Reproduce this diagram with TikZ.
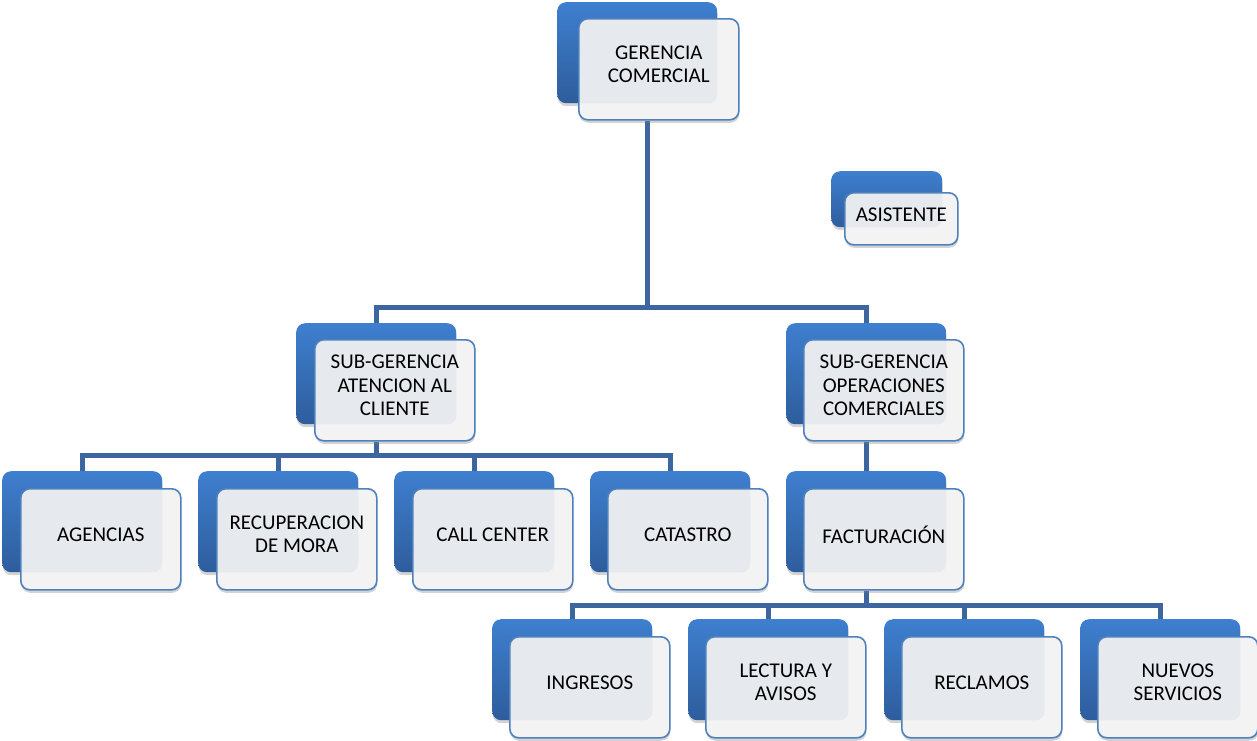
\documentclass[tikz,border=0pt]{standalone}
\usepackage{fontspec}
\setmainfont{Carlito}
\usetikzlibrary{shadows,calc}
\pgfdeclarelayer{bg}
\pgfsetlayers{bg,main}
\definecolor{linec}{HTML}{3D66A0}
\definecolor{bordc}{HTML}{4F81BD}
\definecolor{backtop}{HTML}{3E7FCF}
\definecolor{backbot}{HTML}{2E5D9C}
\definecolor{frontc}{HTML}{F3F3F3}
\definecolor{tintc}{HTML}{E6E9EE}
\tikzset{
  backbox/.style={rectangle, rounded corners=9pt, minimum width=160pt, minimum height=101pt,
    inner sep=0pt, anchor=north west, top color=backtop, bottom color=backbot, draw=none,
    drop shadow={shadow xshift=0.5pt, shadow yshift=-3pt, opacity=0.35}},
  frontbox/.style={rectangle, rounded corners=9pt, minimum width=160pt, minimum height=101pt,
    inner sep=0pt, anchor=north west, fill=frontc, draw=bordc, line width=1.6pt,
    drop shadow={shadow xshift=0.5pt, shadow yshift=-3pt, opacity=0.35},
    path picture={\fill[tintc, rounded corners=9pt] (#1.south west) rectangle (#1.north east);}},
  lbl/.style={align=center, inner sep=0pt, text=black, font=\fontsize{21}{23.5}\selectfont},
  conn/.style={draw=linec, line width=5pt}
}
\begin{document}
\begin{tikzpicture}[x=1pt,y=-1pt]
\useasboundingbox (0,0) rectangle (1257,740);
% level 1
\node[backbox] (gb) at (557,2) {};
\node[frontbox=gb] (gf) at (578,18) {};
\node[lbl] (gt) at ($(gf.center)+(0,-5)$) {GERENCIA\\COMERCIAL};
% asistente
\node[backbox, minimum width=111pt, minimum height=56pt] (asb) at (831,171) {};
\node[frontbox=asb, minimum width=113pt, minimum height=52pt] (asf) at (844,192) {};
\node[lbl] (ast) at ($(asf.center)+(0,-4)$) {ASISTENTE};
% level 2
\node[backbox] (sab) at (296,323) {};
\node[frontbox=sab] (saf) at (314,339) {};
\node[lbl] (sat) at ($(saf.center)+(0,-5)$) {SUB-GERENCIA\\ATENCION AL\\CLIENTE};
\node[backbox] (sob) at (786,323) {};
\node[frontbox=sob] (sof) at (803,339) {};
\node[lbl] (sot) at ($(sof.center)+(0,-5)$) {SUB-GERENCIA\\OPERACIONES\\COMERCIALES};
% level 3
\node[backbox] (agb) at (2,471) {};
\node[frontbox=agb] (agf) at (20,488) {};
\node[lbl] (agt) at ($(agf.center)+(0,-5)$) {AGENCIAS};
\node[backbox] (reb) at (198,471) {};
\node[frontbox=reb] (ref) at (216,488) {};
\node[lbl] (ret) at ($(ref.center)+(0,-5)$) {RECUPERACION\\DE MORA};
\node[backbox] (ccb) at (394,471) {};
\node[frontbox=ccb] (ccf) at (412,488) {};
\node[lbl] (cct) at ($(ccf.center)+(0,-5)$) {CALL CENTER};
\node[backbox] (cab) at (590,471) {};
\node[frontbox=cab] (caf) at (607,488) {};
\node[lbl] (cat) at ($(caf.center)+(0,-5)$) {CATASTRO};
\node[backbox] (fab) at (786,471) {};
\node[frontbox=fab] (faf) at (803,488) {};
\node[lbl] (fat) at ($(faf.center)+(0,-5)$) {FACTURACIÓN};
% level 4
\node[backbox] (inb) at (492,619) {};
\node[frontbox=inb] (inf) at (509,636) {};
\node[lbl] (intx) at ($(inf.center)+(0,-5)$) {INGRESOS};
\node[backbox] (leb) at (688,619) {};
\node[frontbox=leb] (lef) at (705,636) {};
\node[lbl] (let) at ($(lef.center)+(0,-5)$) {LECTURA Y\\AVISOS};
\node[backbox] (rcb) at (884,619) {};
\node[frontbox=rcb] (rcf) at (901,636) {};
\node[lbl] (rct) at ($(rcf.center)+(0,-5)$) {RECLAMOS};
\node[backbox] (nub) at (1080,619) {};
\node[frontbox=nub] (nuf) at (1097,636) {};
\node[lbl] (nut) at ($(nuf.center)+(0,-5)$) {NUEVOS\\SERVICIOS};
% connectors
\coordinate (bar1) at (0,307);
\coordinate (bar2) at (0,455);
\coordinate (bar3) at (0,605);
\coordinate (gm) at ($(gb.south east)!0.5!(gf.south west)$);
\begin{pgfonlayer}{bg}
\draw[conn] (gm |- gf.south) -- (gm |- bar1);
\draw[conn] (sab.north) -- (sab.north |- bar1) -- (sob.north |- bar1) -- (sob.north);
\draw[conn] (sab.center |- saf.south) -- (sab.center |- bar2);
\draw[conn] (agb.north) -- (agb.north |- bar2) -- (cab.north |- bar2) -- (cab.north);
\draw[conn] (reb.north) -- (reb.north |- bar2);
\draw[conn] (ccb.north) -- (ccb.north |- bar2);
\draw[conn] (sob.center |- sof.south) -- (fab.north);
\draw[conn] (fab.center |- faf.south) -- (fab.center |- bar3);
\draw[conn] (inb.north) -- (inb.north |- bar3) -- (nub.north |- bar3) -- (nub.north);
\draw[conn] (leb.north) -- (leb.north |- bar3);
\draw[conn] (rcb.north) -- (rcb.north |- bar3);
\end{pgfonlayer}
\end{tikzpicture}
\end{document}
